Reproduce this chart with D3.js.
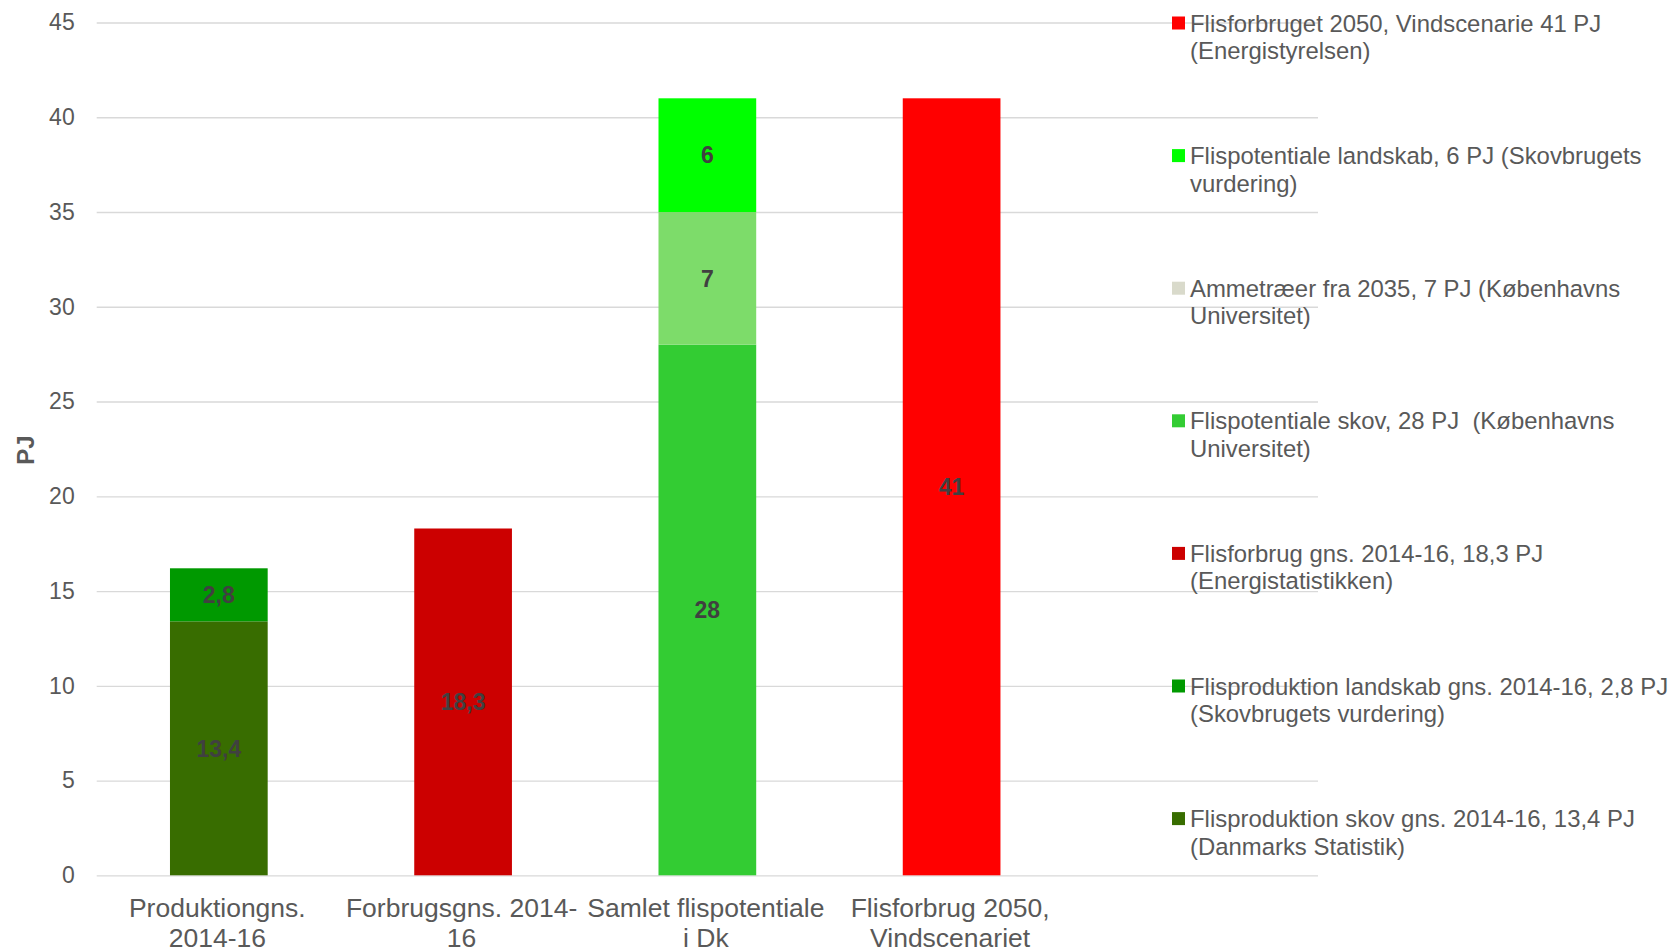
<!DOCTYPE html>
<html>
<head>
<meta charset="utf-8">
<script src="https://cdn.jsdelivr.net/npm/d3@7"></script>
<style>
  body { margin: 0; background: #fff; }
  svg { font-family: "Liberation Sans", Arial, sans-serif; }
  .tick-label { fill: #595959; font-size: 23px; }
  .cat-label { fill: #595959; font-size: 26.5px; }
  .legend-text { fill: #595959; font-size: 23.9px; white-space: pre; }
  .value-label { fill: #404040; font-size: 23px; font-weight: bold; }
</style>
</head>
<body>
<div id="chart"></div>
<script>
const FRAME_WIDTH = 1674;
const FRAME_HEIGHT = 949;
const MARGINS = {left: 96.7, right: 356, top: 22.5, bottom: 73.7};

// categories (5th one is empty, leaves room for legend like in the original)
const CATEGORIES = ["Produktiongns.\n2014-16", "Forbrugsgns. 2014-\n16", "Samlet flispotentiale\ni Dk", "Flisforbrug 2050,\nVindscenariet", ""];

// series, stacking order bottom -> top
const SERIES_NAMES = [
  "Flisproduktion skov gns. 2014-16, 13,4 PJ\n(Danmarks Statistik)",
  "Flisproduktion landskab gns. 2014-16, 2,8 PJ\n(Skovbrugets vurdering)",
  "Flisforbrug gns. 2014-16, 18,3 PJ\n(Energistatistikken)",
  "Flispotentiale skov, 28 PJ  (Københavns\nUniversitet)",
  "Ammetræer fra 2035, 7 PJ (Københavns\nUniversitet)",
  "Flispotentiale landskab, 6 PJ (Skovbrugets\nvurdering)",
  "Flisforbruget 2050, Vindscenarie 41 PJ\n(Energistyrelsen)"
];
const PROD_SKOV      = [13.4, 0, 0, 0, 0];
const PROD_LANDSKAB  = [2.8, 0, 0, 0, 0];
const FORBRUG        = [0, 18.3, 0, 0, 0];
const POT_SKOV       = [0, 0, 28, 0, 0];
const AMMETRAER      = [0, 0, 7, 0, 0];
const POT_LANDSKAB   = [0, 0, 6, 0, 0];
const FORBRUG_2050   = [0, 0, 0, 41, 0];
const Y_TICKS = [0, 5, 10, 15, 20, 25, 30, 35, 40, 45];

const BAR_COLORS = ["#386d00", "#009900", "#cc0000", "#33cc33", "#7ddc6a", "#00ff00", "#ff0000"];
const LEGEND_COLORS = ["#386d00", "#009900", "#cc0000", "#33cc33", "#d9dacb", "#00ff00", "#ff0000"];

const VIS_WIDTH = FRAME_WIDTH - MARGINS.left - MARGINS.right;
const VIS_HEIGHT = FRAME_HEIGHT - MARGINS.top - MARGINS.bottom;

const seriesValues = [PROD_SKOV, PROD_LANDSKAB, FORBRUG, POT_SKOV, AMMETRAER, POT_LANDSKAB, FORBRUG_2050];
const table = CATEGORIES.map((c, i) => {
  const row = {cat: c};
  SERIES_NAMES.forEach((s, j) => { row[s] = seriesValues[j][i]; });
  return row;
});
const stacked = d3.stack().keys(SERIES_NAMES)(table);

const locale = d3.formatLocale({decimal: ",", thousands: ".", grouping: [3], currency: ["", " kr"]});
const fmt = (v) => Number.isInteger(v) ? String(v) : locale.format(".1f")(v);

const FRAME = d3.select("#chart")
  .append("svg")
    .attr("width", FRAME_WIDTH)
    .attr("height", FRAME_HEIGHT);

const X_SCALE = d3.scaleBand()
  .domain(CATEGORIES)
  .range([0, VIS_WIDTH])
  .paddingInner(0.6)
  .paddingOuter(0.3);

const Y_SCALE = d3.scaleLinear()
  .domain([0, 45])
  .range([VIS_HEIGHT, 0]);

const plot = FRAME.append("g")
  .attr("transform", "translate(" + MARGINS.left + "," + MARGINS.top + ")");

// gridlines
plot.append("g")
  .call(d3.axisLeft(Y_SCALE).tickValues(Y_TICKS).tickSize(-VIS_WIDTH).tickFormat(""))
  .call(g => g.select(".domain").remove())
  .call(g => g.selectAll("line").attr("stroke", "#d9d9d9").attr("stroke-width", 1.3));

// y tick labels
plot.append("g")
  .call(d3.axisLeft(Y_SCALE).tickValues(Y_TICKS).tickSize(0).tickPadding(22))
  .call(g => g.select(".domain").remove())
  .call(g => g.selectAll("text").attr("class", "tick-label").attr("font-family", null).attr("font-size", null).attr("fill", null));

// bars
const layers = plot.selectAll(".layer")
  .data(stacked)
  .enter()
  .append("g")
    .attr("class", "layer")
    .attr("fill", (d, i) => BAR_COLORS[i]);

layers.selectAll("rect")
  .data(d => d.filter(p => p[1] - p[0] > 0))
  .enter()
  .append("rect")
    .attr("x", d => X_SCALE(d.data.cat))
    .attr("y", d => Y_SCALE(d[1]))
    .attr("width", X_SCALE.bandwidth())
    .attr("height", d => Y_SCALE(d[0]) - Y_SCALE(d[1]));

// value labels
layers.selectAll(".value-label")
  .data(d => d.filter(p => p[1] - p[0] > 0))
  .enter()
  .append("text")
    .attr("class", "value-label")
    .attr("text-anchor", "middle")
    .attr("x", d => X_SCALE(d.data.cat) + X_SCALE.bandwidth() / 2)
    .attr("y", d => Y_SCALE((d[0] + d[1]) / 2))
    .attr("dy", "0.36em")
    .text(d => fmt(d[1] - d[0]));

// category labels
const xAxis = plot.append("g")
  .attr("transform", "translate(0," + VIS_HEIGHT + ")");
xAxis.selectAll("text")
  .data(CATEGORIES)
  .enter()
  .append("text")
    .attr("class", "cat-label")
    .attr("text-anchor", "middle")
    .attr("x", d => X_SCALE(d) + X_SCALE.bandwidth() / 2 - 1.5)
    .attr("y", 42)
    .selectAll("tspan")
    .data(d => d.split("\n"))
    .enter()
    .append("tspan")
      .attr("x", function() { return d3.select(this.parentNode).attr("x"); })
      .attr("dy", (d, i) => i === 0 ? 0 : 30)
      .text(d => d);

// y axis title
FRAME.append("text")
  .attr("transform", "translate(34,450) rotate(-90)")
  .attr("text-anchor", "middle")
  .attr("fill", "#595959")
  .attr("font-size", "24px")
  .attr("font-weight", "bold")
  .text("PJ");

// legend, top item = last series
const LEGEND_X = 1172;
const LEGEND_TOP = 23;
const LEGEND_STEP = 132.6;
const legendOrder = SERIES_NAMES.map((s, i) => i).reverse();

const legend = FRAME.selectAll(".legend-item")
  .data(legendOrder)
  .enter()
  .append("g")
    .attr("class", "legend-item")
    .attr("transform", (d, i) => "translate(" + LEGEND_X + "," + (LEGEND_TOP + i * LEGEND_STEP) + ")");

legend.append("rect")
  .attr("x", 0)
  .attr("y", -6.5)
  .attr("width", 13)
  .attr("height", 13)
  .attr("fill", d => LEGEND_COLORS[d]);

legend.append("text")
  .attr("class", "legend-text")
  .attr("x", 18)
  .attr("y", 0)
  .selectAll("tspan")
  .data(d => SERIES_NAMES[d].split("\n"))
  .enter()
  .append("tspan")
    .attr("x", 18)
    .attr("dy", (d, i) => i === 0 ? "0.36em" : "27.5")
    .text(d => d);
</script>
</body>
</html>
